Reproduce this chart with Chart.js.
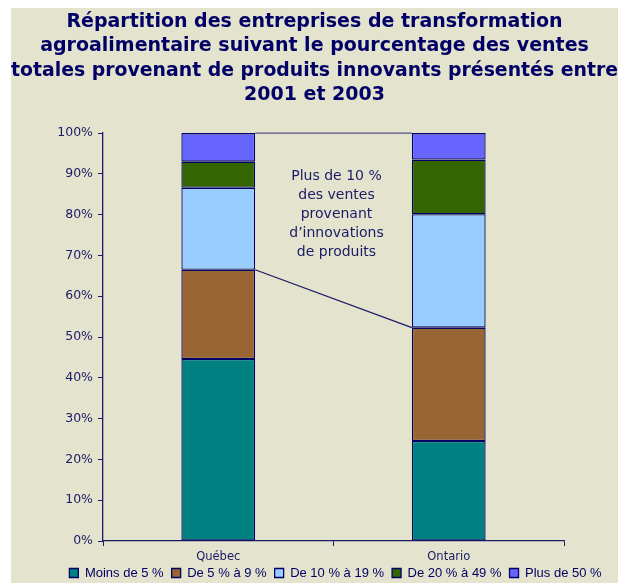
<!DOCTYPE html>
<html>
<head>
<meta charset="utf-8">
<script src="https://cdn.jsdelivr.net/npm/chart.js@4/dist/chart.umd.min.js"></script>
<style>
  html, body { margin: 0; padding: 0; background: #fff; }
  #wrap { position: absolute; left: 11px; top: 8px; width: 607px; height: 575px; background: #e4e3cd; overflow: hidden; }
  #chart { position: absolute; left: 0; top: 0; }
</style>
</head>
<body>
<div id="wrap"><canvas id="chart" width="607" height="594"></canvas></div>
<script>
const titleLines = [
  "Répartition des entreprises de transformation",
  "agroalimentaire suivant le pourcentage des ventes",
  "totales provenant de produits innovants présentés entre",
  "2001 et 2003"
];
const categories = ["Québec", "Ontario"];
const seriesNames = ["Moins de 5 %", "De 5 % à 9 %", "De 10 % à 19 %", "De 20 % à 49 %", "Plus de 50 %"];
const moinsDe5 = [44.6, 24.5];
const de5a9 = [21.9, 27.8];
const de10a19 = [20.1, 27.8];
const de20a49 = [6.4, 13.4];
const plusDe50 = [7.0, 6.5];
const noteLines = ["Plus de 10 %", "des ventes", "provenant", "d’innovations", "de produits"];

const navy = "#1a1a66";
const colors = ["#008080", "#996633", "#99ccff", "#336600", "#6666ff"];
const seriesValues = [moinsDe5, de5a9, de10a19, de20a49, plusDe50];

// draws the two connector lines and the note between the bars
const connectors = {
  id: "connectors",
  afterDatasetsDraw(chart) {
    const { ctx, scales: { y } } = chart;
    const edge = (ds, i, side) => {
      const el = chart.getDatasetMeta(ds).data[i];
      return { x: el.x + side * el.width / 2, y: el.y };
    };
    ctx.save();
    ctx.lineWidth = 1.2;
    ctx.strokeStyle = navy;
    let a = edge(1, 0, 1), b = edge(1, 1, -1);
    ctx.beginPath(); ctx.moveTo(a.x, a.y); ctx.lineTo(b.x, b.y); ctx.stroke();
    ctx.strokeStyle = "#555588";
    a = edge(4, 0, 1); b = edge(4, 1, -1);
    ctx.beginPath(); ctx.moveTo(a.x, a.y); ctx.lineTo(b.x, b.y); ctx.stroke();

    const cx = (edge(0, 0, 1).x + edge(0, 1, -1).x) / 2 + 3;
    ctx.fillStyle = navy;
    ctx.font = "14px 'DejaVu Sans'";
    ctx.textAlign = "center";
    ctx.textBaseline = "middle";
    const y0 = y.getPixelForValue(89.4);
    noteLines.forEach((t, i) => ctx.fillText(t, cx, y0 + i * 19));
    ctx.restore();
  }
};

// legend in the original sits right of the title centre and close under the labels
const shiftLegend = {
  id: "shiftLegend",
  afterLayout(chart) {
    const lg = chart.legend;
    lg.left += 21;
    lg.right += 21;
    lg.top -= 12.5;
    lg.bottom -= 12.5;
  }
};

new Chart("chart", {
  type: "bar",
  data: {
    labels: categories,
    datasets: seriesNames.map((name, i) => ({
      label: name,
      data: seriesValues[i],
      backgroundColor: colors[i],
      borderColor: "#000066",
      borderWidth: 1.3,
      borderSkipped: false,
      barPercentage: 0.32,
      categoryPercentage: 1
    }))
  },
  options: {
    responsive: false,
    animation: false,
    layout: { padding: 0 },
    scales: {
      x: {
        stacked: true,
        afterFit: s => { s.height = 30; },
        grid: { drawOnChartArea: false, tickLength: 5, color: navy },
        border: { color: navy, width: 1.3 },
        ticks: { color: navy, padding: 4.5, font: { family: "DejaVu Sans", size: 11.5 } }
      },
      y: {
        stacked: true,
        min: 0,
        max: 100,
        afterFit: s => { s.width = 92; },
        grid: { drawOnChartArea: false, tickLength: 5, color: navy },
        border: { color: navy, width: 1.3 },
        ticks: {
          stepSize: 10,
          color: navy,
          padding: 5,
          font: { family: "DejaVu Sans", size: 12.5 },
          callback: v => v + "%"
        }
      },
      y2: {
        position: "right",
        afterFit: s => { s.width = 54; },
        grid: { display: false },
        border: { display: false },
        ticks: { display: false }
      }
    },
    plugins: {
      title: {
        display: true,
        text: titleLines,
        color: "#000066",
        font: { family: "DejaVu Sans", size: 19, weight: "bold", lineHeight: 1.28 },
        padding: { top: 2, bottom: 25.8 }
      },
      legend: {
        position: "bottom",
        labels: {
          boxWidth: 9,
          boxHeight: 9,
          padding: 8,
          color: "#000066",
          font: { family: "Liberation Sans", size: 13 }
        }
      },
      tooltip: { enabled: false }
    }
  },
  plugins: [connectors, shiftLegend]
});
</script>
</body>
</html>
